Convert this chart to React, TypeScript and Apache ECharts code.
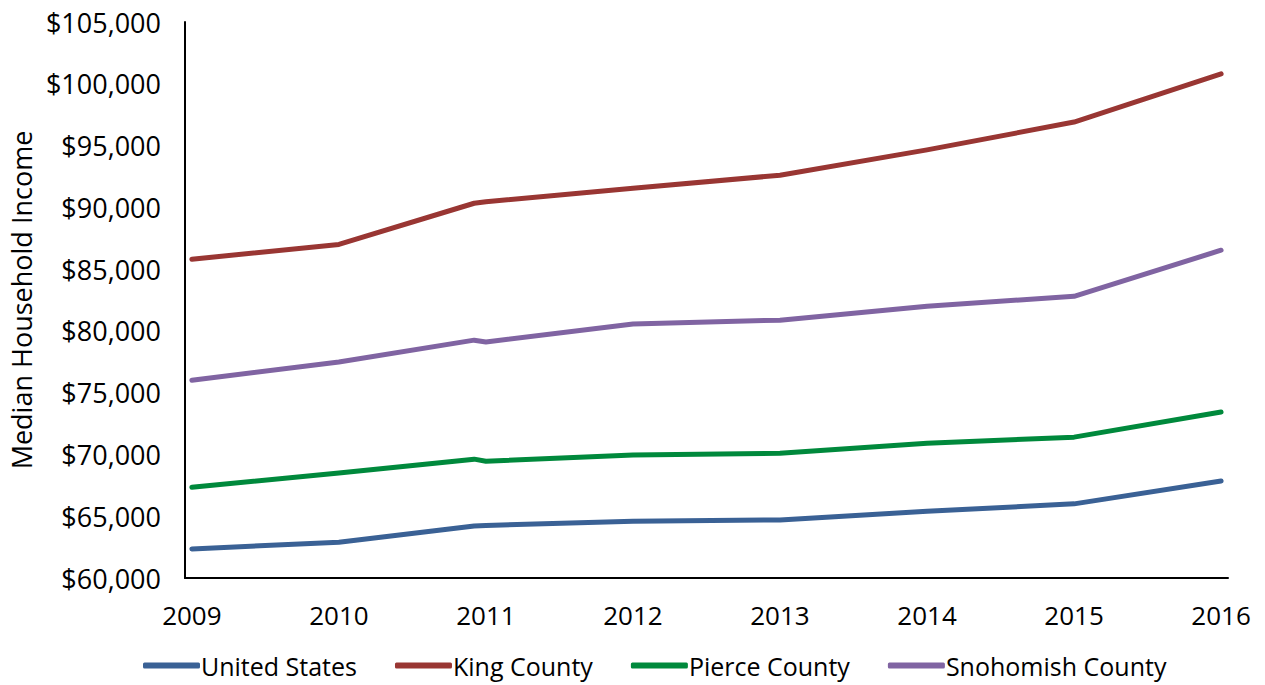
import React, { useEffect, useRef } from "react";
import * as echarts from "echarts";

const years = [2009, 2010, 2010.92, 2011, 2012, 2013, 2014, 2015, 2016];
const tickYears = [2009, 2010, 2011, 2012, 2013, 2014, 2015, 2016];
const unitedStates = [62350, 62900, 64200, 64250, 64600, 64700, 65400, 66000, 67850];
const kingCounty = [85800, 87000, 90330, 90450, 91550, 92600, 94650, 96900, 100800];
const pierceCounty = [67350, 68500, 69620, 69450, 69950, 70100, 70900, 71400, 73430];
const snohomishCounty = [76000, 77480, 79250, 79100, 80550, 80870, 82000, 82800, 86530];
const seriesNames = ["United States", "King County", "Pierce County", "Snohomish County"];
const colors = ["#3a6195", "#993633", "#00893c", "#8064a2"];

const FONT = "Open Sans";

export default function App() {
  const ref = useRef<HTMLDivElement>(null);
  useEffect(() => {
    if (!ref.current) return;
    const chart = echarts.init(ref.current, undefined, { renderer: "svg" });
    const all = [unitedStates, kingCounty, pierceCounty, snohomishCounty];
    chart.setOption({
      animation: false,
      backgroundColor: "#ffffff",
      grid: { left: 184, right: 37, top: 22, bottom: 107, containLabel: false },
      legend: {
        left: 138,
        top: 648,
        icon: "roundRect",
        itemWidth: 57,
        itemHeight: 6,
        itemGap: 38,
        textStyle: { fontFamily: FONT, fontSize: 25, color: "#000", padding: [0, 0, 0, -4] },
        data: seriesNames,
      },
      xAxis: {
        type: "value",
        min: 2008.953,
        max: 2016.047,
        splitLine: { show: false },
        axisLine: { show: true, lineStyle: { color: "#000", width: 2 } },
        axisTick: { show: false },
        axisLabel: {
          customValues: tickYears,
          formatter: (v: number) => String(Math.round(v)),
          fontFamily: FONT,
          fontSize: 26,
          color: "#000",
          margin: 24,
        },
      },
      yAxis: {
        type: "value",
        min: 60000,
        max: 105000,
        interval: 5000,
        name: "Median Household Income",
        nameLocation: "middle",
        nameGap: 142,
        nameTextStyle: { fontFamily: FONT, fontSize: 27, color: "#000" },
        splitLine: { show: false },
        axisLine: { show: true, lineStyle: { color: "#000", width: 2 } },
        axisTick: { show: false },
        axisLabel: {
          formatter: (v: number) => "$" + v.toLocaleString("en-US"),
          fontFamily: FONT,
          fontSize: 27,
          color: "#000",
          margin: 24,
        },
      },
      series: all.map((vals, i) => ({
        name: seriesNames[i],
        type: "line",
        symbol: "none",
        color: colors[i],
        lineStyle: { width: 5, color: colors[i], cap: "round", join: "round" },
        data: years.map((y, j) => [y, vals[j]]),
      })),
    });
    return () => chart.dispose();
  }, []);
  return (
    <div
      ref={ref}
      style={{ position: "fixed", left: 0, top: 0, width: 1265, height: 685, background: "#fff" }}
    />
  );
}
